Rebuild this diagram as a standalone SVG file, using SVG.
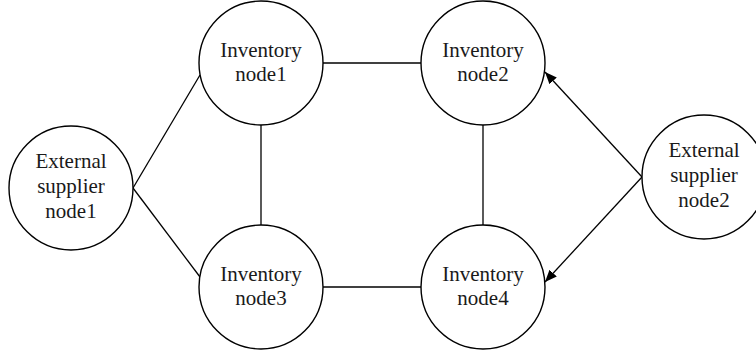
<svg xmlns="http://www.w3.org/2000/svg" width="756" height="354" viewBox="0 0 756 354">
<defs>
<style>
.n{fill:#fff;stroke:#000;stroke-width:1.4}
.t{font-family:"Liberation Serif","Times New Roman",serif;font-size:21px;fill:#1a1a1a;text-anchor:middle}
.e{stroke:#000;stroke-width:1.3;fill:none}
</style>
<marker id="ah" viewBox="0 0 12 10" refX="12" refY="5" markerWidth="12" markerHeight="10" markerUnits="userSpaceOnUse" orient="auto">
<path d="M0,0 L12,5 L0,10 Z" fill="#000"/>
</marker>
</defs>
<rect width="756" height="354" fill="#fff"/>
<g id="connectors">
<line class="e" x1="133" y1="188" x2="200" y2="75"/>
<line class="e" x1="133" y1="188" x2="200" y2="277"/>
<line class="e" x1="323" y1="63" x2="421" y2="63"/>
<line class="e" x1="323" y1="287" x2="421" y2="287"/>
<line class="e" x1="261" y1="125" x2="261" y2="225"/>
<line class="e" x1="483" y1="125" x2="483" y2="225"/>
<line class="e" x1="642" y1="177" x2="545" y2="72" marker-end="url(#ah)"/>
<line class="e" x1="642" y1="177" x2="545" y2="282" marker-end="url(#ah)"/>
</g>
<g id="ext1">
<circle class="n" cx="71" cy="188" r="62"/>
<text class="t" x="71" y="168">External</text>
<text class="t" x="71" y="193">supplier</text>
<text class="t" x="71" y="218">node1</text>
</g>
<g id="inv1">
<circle class="n" cx="261" cy="63" r="62"/>
<text class="t" x="261" y="57">Inventory</text>
<text class="t" x="261" y="81">node1</text>
</g>
<g id="inv2">
<circle class="n" cx="483" cy="63" r="62"/>
<text class="t" x="483" y="57">Inventory</text>
<text class="t" x="483" y="81">node2</text>
</g>
<g id="inv3">
<circle class="n" cx="261" cy="287" r="62"/>
<text class="t" x="261" y="281">Inventory</text>
<text class="t" x="261" y="305">node3</text>
</g>
<g id="inv4">
<circle class="n" cx="483" cy="287" r="62"/>
<text class="t" x="483" y="281">Inventory</text>
<text class="t" x="483" y="305">node4</text>
</g>
<g id="ext2">
<circle class="n" cx="704" cy="177" r="62"/>
<text class="t" x="704" y="157">External</text>
<text class="t" x="704" y="182">supplier</text>
<text class="t" x="704" y="207">node2</text>
</g>
</svg>
